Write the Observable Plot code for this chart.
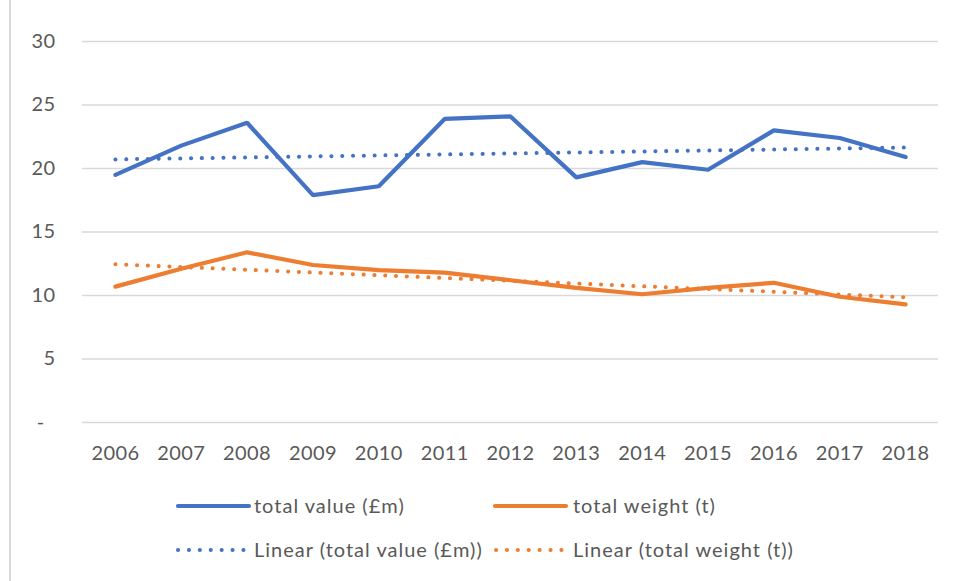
<!DOCTYPE html>
<html>
<head>
<meta charset="utf-8">
<script src="https://cdn.jsdelivr.net/npm/d3@7"></script>
<script src="https://cdn.jsdelivr.net/npm/@observablehq/plot@0.6"></script>
<style>
  html, body { margin: 0; padding: 0; background: #fff; }
  #wrap { position: relative; width: 955px; height: 581px; font-family: Lato, "Open Sans", sans-serif; color: #595959; }
  #border { position: absolute; left: 9px; top: 0; width: 2px; height: 581px; background: #d9d9d9; }
  #chart { position: absolute; left: 0; top: 0; }
  .leg { position: absolute; font-size: 20px; line-height: 24px; white-space: nowrap; letter-spacing: 1px; }
  .sw { position: absolute; }
</style>
</head>
<body>
<div id="wrap">
  <div id="border"></div>
  <div id="chart"></div>
  <div id="legend"></div>
</div>
<script>
const years = [2006, 2007, 2008, 2009, 2010, 2011, 2012, 2013, 2014, 2015, 2016, 2017, 2018];
const totalValue = [19.5, 21.8, 23.6, 17.9, 18.6, 23.9, 24.1, 19.3, 20.5, 19.9, 23.0, 22.4, 20.9];
const totalWeight = [10.7, 12.1, 13.4, 12.4, 12.0, 11.8, 11.2, 10.6, 10.1, 10.6, 11.0, 9.9, 9.3];
const seriesNames = ["total value (£m)", "total weight (t)"];
const trendNames = ["Linear (total value (£m))", "Linear (total weight (t))"];
const colors = ["#4472C4", "#ED7D31"];
const yTicks = [0, 5, 10, 15, 20, 25, 30];

const valueData = years.map((yr, i) => ({year: yr, v: totalValue[i]}));
const weightData = years.map((yr, i) => ({year: yr, v: totalWeight[i]}));

const dotted = {strokeWidth: 4, strokeDasharray: "0.1,10.7", strokeLinecap: "round", ci: 0};

const chart = Plot.plot({
  width: 955,
  height: 480,
  marginLeft: 82,
  marginRight: 17,
  marginTop: 41,
  marginBottom: 58,
  style: {fontFamily: "Lato, 'Open Sans', sans-serif", fontSize: "20px", color: "#595959", background: "transparent", letterSpacing: "0.4px"},
  x: {domain: [2005.5, 2018.5], ticks: years, tickFormat: d => String(d), tickSize: 0, tickPadding: 23, label: null},
  y: {domain: [0, 30], ticks: yTicks, tickFormat: d => d === 0 ? "-\u00a0\u00a0" : String(d), tickSize: 0, tickPadding: 27, label: null},
  marks: [
    Plot.gridY(yTicks, {stroke: "#d9d9d9", strokeOpacity: 1, strokeWidth: 1.5}),
    Plot.linearRegressionY(valueData, {x: "year", y: "v", stroke: colors[0], ...dotted}),
    Plot.linearRegressionY(weightData, {x: "year", y: "v", stroke: colors[1], ...dotted}),
    Plot.line(valueData, {x: "year", y: "v", stroke: colors[0], strokeWidth: 4.2, strokeLinejoin: "miter", strokeLinecap: "round"}),
    Plot.line(weightData, {x: "year", y: "v", stroke: colors[1], strokeWidth: 4.2, strokeLinejoin: "miter", strokeLinecap: "round"})
  ]
});
document.getElementById("chart").appendChild(chart);

// Legend
const legend = document.getElementById("legend");
function swatch(x, y, color, dotted) {
  const ns = "http://www.w3.org/2000/svg";
  const s = document.createElementNS(ns, "svg");
  s.setAttribute("width", 80); s.setAttribute("height", 10);
  s.setAttribute("class", "sw");
  s.style.left = x + "px"; s.style.top = (y - 5) + "px";
  const l = document.createElementNS(ns, "line");
  l.setAttribute("x1", 3); l.setAttribute("y1", 5); l.setAttribute("y2", 5);
  l.setAttribute("stroke", color);
  l.setAttribute("stroke-linecap", "round");
  if (dotted) { l.setAttribute("x2", 70); l.setAttribute("stroke-width", 4); l.setAttribute("stroke-dasharray", "0.1,10.8"); }
  else { l.setAttribute("x2", 74); l.setAttribute("stroke-width", 4.2); }
  s.appendChild(l);
  legend.appendChild(s);
}
function label(x, y, text) {
  const d = document.createElement("div");
  d.className = "leg";
  d.style.left = x + "px"; d.style.top = (y - 13) + "px";
  d.textContent = text;
  legend.appendChild(d);
}
swatch(175, 506, colors[0], false); label(254, 506, seriesNames[0]);
swatch(492, 506, colors[1], false); label(573, 506, seriesNames[1]);
swatch(175, 550, colors[0], true);  label(254, 550, trendNames[0]);
swatch(493, 550, colors[1], true);  label(573, 550, trendNames[1]);
</script>
</body>
</html>
